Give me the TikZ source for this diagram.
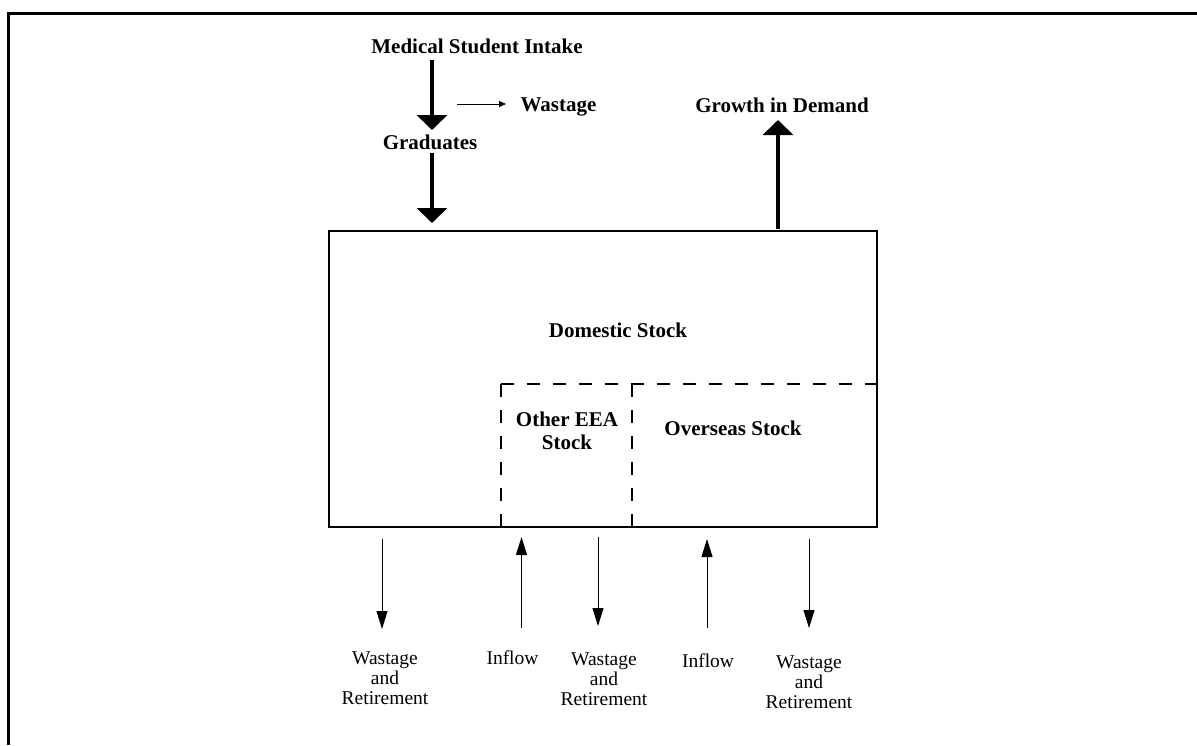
\documentclass[tikz,border=0pt]{standalone}
\usepackage{fontspec}
\setmainfont{Liberation Serif}
\usetikzlibrary{arrows.meta}
\tikzset{
  boldtxt/.style={font=\bfseries\fontsize{21}{23}\selectfont, inner sep=0pt, align=center},
  plaintxt/.style={font=\fontsize{19.5}{20}\selectfont, inner sep=0pt, align=center},
  thickarrow/.style={line width=4.5pt, -{Triangle[width=30pt,length=15pt]}},
  thinarrow/.style={line width=1pt, -{Triangle[width=11pt,length=18pt]}},
  smallarrow/.style={line width=1pt, -{Triangle[width=6pt,length=7pt]}},
  dashline/.style={line width=2pt, dash pattern=on 13pt off 13pt},
}
\begin{document}
\begin{tikzpicture}[x=1pt,y=-1pt]
\useasboundingbox (0,0) rectangle (1197,745);
% outer frame (top and left only)
\draw[line width=3pt] (8.5,745) -- (8.5,13.5) -- (1197,13.5);

% main box
\node[draw, line width=2pt, minimum width=548pt, minimum height=296pt, inner sep=0pt] (dom) at (603,378.5) {};
\node[boldtxt, anchor=base] (dst) at (618,337) {Domestic Stock};

% dashed sub-regions
\coordinate (d1b) at (500.5,527);
\coordinate (d1t) at (500.5,384);
\coordinate (dr) at (877,384);
\coordinate (d2t) at (631.5,384);
\coordinate (d2b) at (631.5,527);
\draw[dashline] (d1t) -- (dr);
\draw[dashline] (d1t) -- (d1b);
\draw[dashline] (d2t) -- (d2b);
\node[boldtxt, anchor=north] (eea) at (567,412) {Other EEA\\Stock};
\node[boldtxt, anchor=base] (ovs) at (733,435) {Overseas Stock};

% top flows
\node[boldtxt, anchor=base] (msi) at (477,53) {Medical Student Intake};
\node[boldtxt, anchor=base] (grad) at (430,149) {Graduates};
\node[boldtxt, anchor=base] (wst) at (558.5,111) {Wastage};
\node[boldtxt, anchor=base] (gid) at (782,112) {Growth in Demand};

\coordinate (m1) at (432,60);
\coordinate (m2) at (432,130);
\coordinate (g1) at (432,153);
\coordinate (g2) at (432,223);
\coordinate (w1) at (457,104);
\coordinate (w2) at (506,104);
\coordinate (gd1) at (778,229);
\coordinate (gd2) at (778,120);
\draw[thickarrow] (m1) -- (m2);
\draw[thickarrow] (g1) -- (g2);
\draw[smallarrow] (w1) -- (w2);
\draw[thickarrow] (gd1) -- (gd2);

% bottom flows
\coordinate (a1s) at (382,539);   \coordinate (a1e) at (382,629);
\coordinate (a2s) at (521.5,628); \coordinate (a2e) at (521.5,537);
\coordinate (a3s) at (598,537);   \coordinate (a3e) at (598,626);
\coordinate (a4s) at (707,628);   \coordinate (a4e) at (707,539);
\coordinate (a5s) at (809,539);   \coordinate (a5e) at (809,628);
\draw[thinarrow] (a1s) -- (a1e);
\draw[thinarrow] (a2s) -- (a2e);
\draw[thinarrow] (a3s) -- (a3e);
\draw[thinarrow] (a4s) -- (a4e);
\draw[thinarrow] (a5s) -- (a5e);

\node[plaintxt, anchor=north] (wr1) at (385,652) {Wastage\\and\\Retirement};
\node[plaintxt, anchor=base] (in1) at (512.5,664) {Inflow};
\node[plaintxt, anchor=north] (wr2) at (604,653) {Wastage\\and\\Retirement};
\node[plaintxt, anchor=base] (in2) at (708,667) {Inflow};
\node[plaintxt, anchor=north] (wr3) at (809,656) {Wastage\\and\\Retirement};
\end{tikzpicture}
\end{document}
